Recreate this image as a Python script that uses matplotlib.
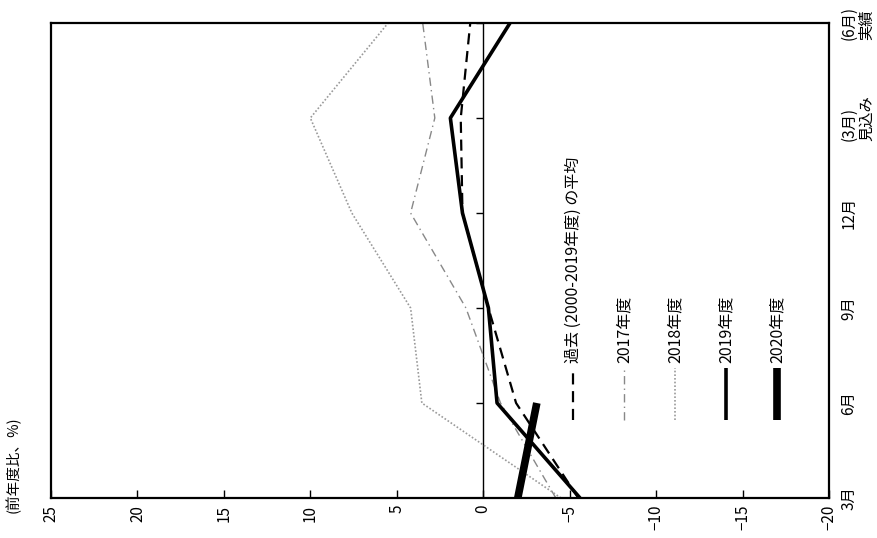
import numpy as np
import matplotlib
matplotlib.use('Agg')
import matplotlib.pyplot as plt
from matplotlib.lines import Line2D

plt.rcParams['font.family'] = ['Noto Sans CJK JP', 'DejaVu Sans']

# survey points (time axis) and series values (前年度比, %)
months = ['3月', '6月', '9月', '12月', '(3月)\n見込み', '(6月)\n実績']
avg_past = [-5.5, -1.9, -0.3, 1.2, 1.3, 0.75]
fy2017 = [-4.2, -1.0, 1.0, 4.2, 2.8, 3.5]
fy2018 = [-4.5, 3.55, 4.2, 7.6, 10.0, 5.5]
fy2019 = [-5.6, -0.8, -0.3, 1.2, 1.9, -1.55]
fy2020 = [-2.0, -3.1]
value_ticks = [25, 20, 15, 10, 5, 0, -5, -10, -15, -20]

t = np.arange(len(months))

fig = plt.figure(figsize=(8.78, 5.38), dpi=100)
ax = fig.add_axes([51/878, 40/538, 778/878, 475/538])

# chart is drawn turned 90 degrees: values run along x (25 left, -20 right)
ax.axvline(0, color='black', lw=1)
ax.plot(np.zeros(len(t)), t, ls='none', marker=0, ms=5, color='black', mew=1)

styles = [
    (avg_past, dict(color='black', lw=1.6, ls=(0, (5, 3))), '過去 (2000-2019年度) の平均'),
    (fy2017, dict(color='#888888', lw=1.0, ls=(0, (6, 3, 1, 3))), '2017年度'),
    (fy2018, dict(color='#9a9a9a', lw=1.2, ls=(0, (1, 1.2))), '2018年度'),
    (fy2019, dict(color='black', lw=2.6, ls='-'), '2019年度'),
    (fy2020, dict(color='black', lw=5.5, ls='-'), '2020年度'),
]
for vals, st, lab in styles:
    ax.plot(vals, t[:len(vals)], solid_capstyle='butt', **st)

ax.set_xlim(25, -20)
ax.set_ylim(0, 5)

ax.set_xticks(value_ticks)
ax.set_xticklabels([str(v).replace('-', '−') for v in value_ticks], rotation=90,
                   fontsize=11)
ax.tick_params(axis='x', direction='in', length=6, width=1, pad=5)

ax.yaxis.tick_right()
ax.set_yticks(t)
ax.set_yticklabels(months, rotation=90, fontsize=11, va='center',
                   linespacing=1.05)
ax.tick_params(axis='y', length=0, pad=8)

for s in ax.spines.values():
    s.set_linewidth(1.6)

# legend written sideways inside the plot
for i, (vals, st, lab) in enumerate(styles):
    xf = (573 + i * 51 - 51) / 778
    ax.add_line(Line2D([xf, xf], [0.164, 0.274], transform=ax.transAxes,
                       solid_capstyle='butt', **st))
    ax.text(xf, 0.284, lab, transform=ax.transAxes, rotation=90,
            ha='center', va='bottom', fontsize=11.5)

fig.text(13/878, 25/538, '(前年度比、%)', rotation=90, ha='center',
         va='bottom', fontsize=10.5)

fig.savefig('out.png', dpi=100)
